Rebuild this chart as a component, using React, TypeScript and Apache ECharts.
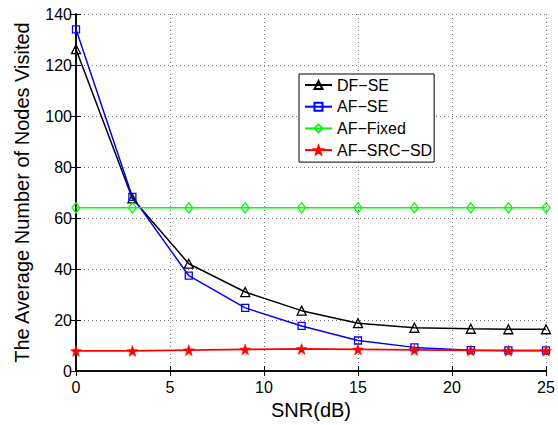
import React, { useEffect, useRef } from "react";
import * as echarts from "echarts";

const snr = [0, 3, 6, 9, 12, 15, 18, 21, 23, 25];
const dfSE = [126.2, 67.7, 42.1, 31.0, 23.7, 18.8, 17.0, 16.6, 16.4, 16.4];
const afSE = [134.0, 68.3, 37.4, 24.8, 17.7, 12.0, 9.3, 8.2, 8.1, 8.1];
const afFixed = [64, 64, 64, 64, 64, 64, 64, 64, 64, 64];
const afSRCSD = [7.9, 7.9, 8.2, 8.5, 8.7, 8.5, 8.3, 8.1, 8.0, 8.0];
const seriesNames = ["DF\u2212SE", "AF\u2212SE", "AF\u2212Fixed", "AF\u2212SRC\u2212SD"];
const xTitle = "SNR(dB)";
const yTitle = "The Average Number of Nodes Visited";

const STAR =
  "path://M0,-10L2.35,-3.24L9.51,-3.09L3.8,1.24L5.88,8.09L0,4.25L-5.88,8.09L-3.8,1.24L-9.51,-3.09L-2.35,-3.24Z";

const FONT = "'Liberation Sans', Arial, Helvetica, sans-serif";

export default function App() {
  const ref = useRef<HTMLDivElement>(null);
  useEffect(() => {
    document.body.style.margin = "0";
    const chart = echarts.init(ref.current!, undefined, { renderer: "svg" });
    const zip = (ys: number[]) => snr.map((x, i) => [x, ys[i]]);
    const axisLine = { show: true, lineStyle: { color: "#000", width: 1.5 } };
    const tick = { show: true, inside: true, length: 5, lineStyle: { color: "#000", width: 1 } };
    const split = { show: true, lineStyle: { color: "#777", type: [1, 3], width: 1 } };
    chart.setOption({
      animation: false,
      backgroundColor: "#fff",
      textStyle: { fontFamily: FONT },
      grid: { left: 76, right: 12, top: 14, bottom: 53, containLabel: false },
      xAxis: [
        {
          type: "value",
          min: 0,
          max: 25,
          interval: 5,
          name: xTitle,
          nameLocation: "middle",
          nameGap: 26,
          nameTextStyle: { fontSize: 20, color: "#000", fontFamily: FONT },
          axisLine,
          axisTick: tick,
          axisLabel: { fontSize: 16, color: "#000", margin: 8, fontFamily: FONT },
          splitLine: split,
        },
        {
          type: "value",
          position: "top",
          min: 0,
          max: 25,
          interval: 5,
          axisLine,
          axisTick: tick,
          axisLabel: { show: false },
          splitLine: { show: false },
        },
      ],
      yAxis: [
        {
          type: "value",
          min: 0,
          max: 140,
          interval: 20,
          name: yTitle,
          nameLocation: "middle",
          nameGap: 44,
          nameTextStyle: { fontSize: 20, color: "#000", fontFamily: FONT },
          axisLine,
          axisTick: tick,
          axisLabel: { fontSize: 16, color: "#000", margin: 4, fontFamily: FONT },
          splitLine: split,
        },
        {
          type: "value",
          position: "right",
          min: 0,
          max: 140,
          interval: 20,
          axisLine,
          axisTick: tick,
          axisLabel: { show: false },
          splitLine: { show: false },
        },
      ],
      legend: {
        orient: "vertical",
        left: 299,
        top: 74,
        backgroundColor: "#fff",
        borderColor: "#000",
        borderWidth: 1,
        borderRadius: 0,
        padding: [3, 2, 4, 5],
        itemWidth: 27,
        itemHeight: 10,
        itemGap: 5.7,
        itemTextGap: 3,
        textStyle: { fontSize: 16, color: "#000", lineHeight: 16, fontFamily: FONT },
        data: seriesNames,
      },
      series: [
        {
          name: seriesNames[0],
          type: "line",
          data: zip(dfSE),
          symbol: "triangle",
          symbolSize: 9,
          lineStyle: { color: "#000", width: 1.5 },
          itemStyle: { color: "rgba(255,255,255,0)", borderColor: "#000", borderWidth: 1.3 },
        },
        {
          name: seriesNames[1],
          type: "line",
          data: zip(afSE),
          symbol: "rect",
          symbolSize: 7,
          lineStyle: { color: "#0000ff", width: 1.5 },
          itemStyle: { color: "rgba(255,255,255,0)", borderColor: "#0000ff", borderWidth: 1.3 },
        },
        {
          name: seriesNames[2],
          type: "line",
          data: zip(afFixed),
          symbol: "diamond",
          symbolSize: [8, 10],
          lineStyle: { color: "#00ff00", width: 1.5 },
          itemStyle: { color: "rgba(255,255,255,0)", borderColor: "#00ff00", borderWidth: 1.3 },
        },
        {
          name: seriesNames[3],
          type: "line",
          data: zip(afSRCSD),
          symbol: STAR,
          symbolSize: 11,
          lineStyle: { color: "#ff0000", width: 1.8 },
          itemStyle: { color: "#ff0000", borderColor: "#ff0000", borderWidth: 0.5 },
        },
      ],
    });
    return () => chart.dispose();
  }, []);
  return <div ref={ref} style={{ width: 558, height: 425 }} />;
}
